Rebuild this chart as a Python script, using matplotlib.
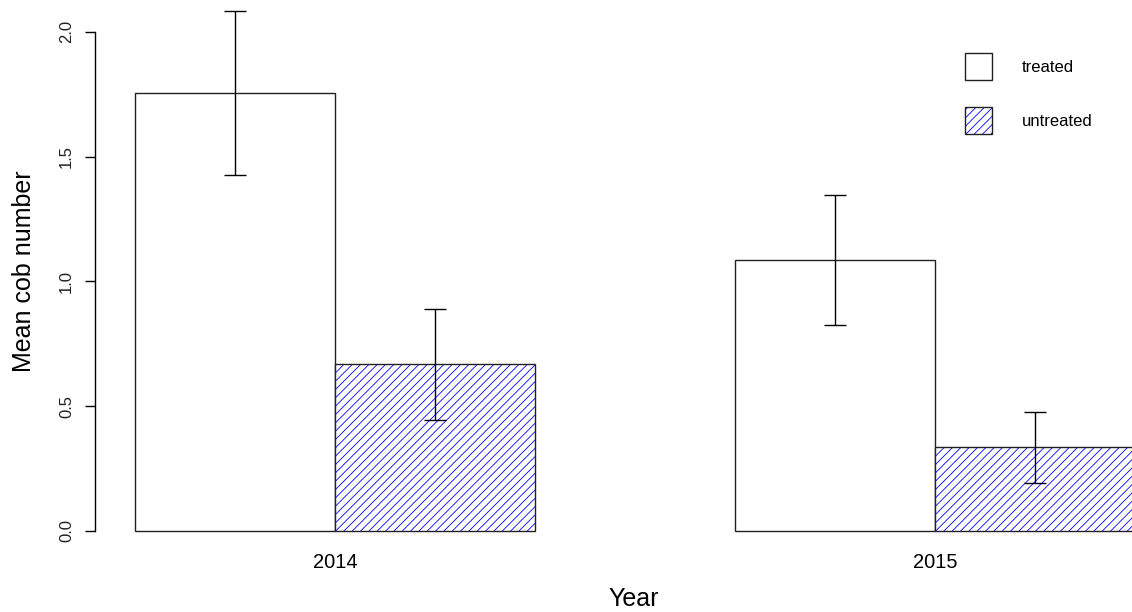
import numpy as np
import matplotlib.pyplot as plt
from matplotlib.patches import Patch

plt.rcParams['font.family']=['Liberation Sans','DejaVu Sans']
plt.rcParams['hatch.linewidth']=0.6

YEARS=['2014','2015']
TREATED=[1.754,1.086]
UNTREATED=[0.667,0.335]
TREATED_SE=[0.330,0.260]
UNTREATED_SE=[0.224,0.142]
YTICKS=[0.0,0.5,1.0,1.5,2.0]

W,H=1132,612
fig=plt.figure(figsize=(W/100,H/100),dpi=100)
# axes runs past the right edge like the R device crop
ax=fig.add_axes([95/W,(H-531)/H,1080/W,531/H])

groups=np.arange(len(YEARS))*3
x_t=groups+1.5
x_u=groups+2.5

ax.bar(x_t,TREATED,width=1,facecolor='white',edgecolor='#222222',linewidth=1,clip_on=False)
ax.bar(x_u,UNTREATED,width=1,facecolor='white',edgecolor='blue',hatch='////',linewidth=0,clip_on=False)
ax.bar(x_u,UNTREATED,width=1,fill=False,edgecolor='#222222',linewidth=1,clip_on=False)

ax.errorbar(x_t,TREATED,yerr=TREATED_SE,fmt='none',ecolor='black',elinewidth=1,capsize=7.9,capthick=1)
ax.errorbar(x_u,UNTREATED,yerr=UNTREATED_SE,fmt='none',ecolor='black',elinewidth=1,capsize=7.9,capthick=1)

ax.set_xlim(0.8,6.2)
ax.set_ylim(0,531/249.65)

for s in ['top','right','bottom']:
    ax.spines[s].set_visible(False)
ax.spines['left'].set_bounds(0,2)
ax.spines['left'].set_linewidth(1)

ax.set_yticks(YTICKS)
ax.set_yticklabels([f'{v:.1f}' for v in YTICKS],rotation=90,va='center',fontsize=12,color='#222222')
ax.tick_params(axis='y',length=7.2,width=1,pad=8)

ax.set_xticks(groups+2)
ax.set_xticklabels(YEARS,fontsize=14.5)
ax.tick_params(axis='x',length=0,pad=16)

fig.text(24/W,1-271/H,'Mean cob number',rotation=90,ha='center',va='center',fontsize=18)
fig.text(634/W,1-599/H,'Year',ha='center',va='center',fontsize=18)

h_t=Patch(facecolor='white',edgecolor='#222222',linewidth=1)
h_u=(Patch(facecolor='white',edgecolor='blue',hatch='////',linewidth=0),
     Patch(fill=False,edgecolor='#222222',linewidth=1))
fig.legend([h_t,h_u],['treated','untreated'],loc='upper left',
           bbox_to_anchor=(965/W,1-52.7/H),frameon=False,fontsize=12,
           handlelength=1.6,handleheight=2.14,labelspacing=1.62,
           handletextpad=1.8,borderpad=0,borderaxespad=0)

plt.savefig('out.png',dpi=100)
